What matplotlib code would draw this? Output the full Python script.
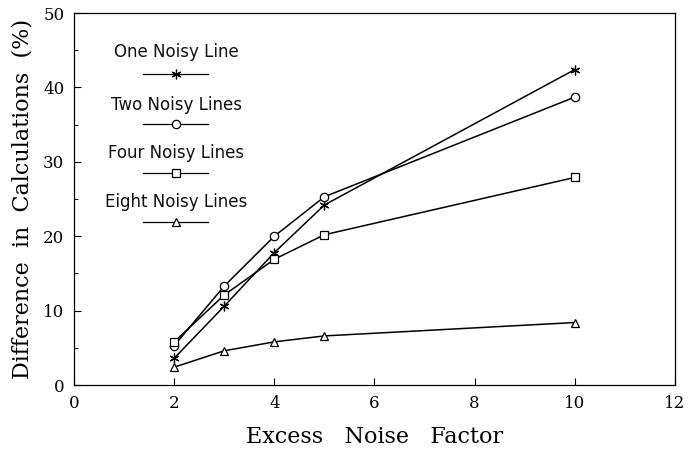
import numpy as np
import matplotlib.pyplot as plt
from matplotlib.lines import Line2D
from matplotlib.ticker import MultipleLocator

# data
noise_factor = [2, 3, 4, 5, 10]
one_line = [3.6, 10.6, 17.8, 24.2, 42.4]
two_lines = [5.3, 13.3, 20.0, 25.3, 38.7]
four_lines = [5.8, 12.1, 16.9, 20.2, 27.9]
eight_lines = [2.4, 4.6, 5.8, 6.6, 8.4]

labels = ['One Noisy Line', 'Two Noisy Lines', 'Four Noisy Lines', 'Eight Noisy Lines']
markers = [(6, 2, 0), 'o', 's', '^']
series = [one_line, two_lines, four_lines, eight_lines]

fig = plt.figure(figsize=(6.88, 4.49), dpi=100)
ax = fig.add_axes([0.1076, 0.1425, 0.8734, 0.8285])

for vals, mk in zip(series, markers):
    ax.plot(noise_factor, vals, color='black', lw=1.1, marker=mk,
            ms=7 if mk == markers[0] else 6, mfc='white' if mk != markers[0] else 'black',
            mec='black', mew=0.9)

ax.set_xlim(0, 12)
ax.set_ylim(0, 50)
ax.xaxis.set_major_locator(MultipleLocator(2))
ax.yaxis.set_major_locator(MultipleLocator(10))
ax.yaxis.set_minor_locator(MultipleLocator(5))
ax.tick_params(which='both', direction='in', top=False, right=False)
ax.tick_params(which='major', length=5, width=0.8, labelsize=12, pad=7)
ax.tick_params(which='minor', length=3, width=0.7)
for lab in ax.get_xticklabels() + ax.get_yticklabels():
    lab.set_fontfamily('DejaVu Serif')
for sp in ax.spines.values():
    sp.set_linewidth(0.9)

ax.set_xlabel('Excess   Noise   Factor', fontfamily='DejaVu Serif', fontsize=16, labelpad=10)
ax.set_ylabel('Difference  in  Calculations  (%)', fontfamily='DejaVu Serif', fontsize=16, labelpad=7)

# hand-drawn style legend: label above a short sample line
text_y = [0.895, 0.753, 0.624, 0.492]
line_y = [0.836, 0.702, 0.570, 0.438]
for lab, mk, ty, ly in zip(labels, markers, text_y, line_y):
    ax.text(0.17, ty, lab, transform=ax.transAxes, ha='center', va='center',
            fontsize=12, fontfamily='DejaVu Sans', color='#111111')
    ax.add_line(Line2D([0.115, 0.223], [ly, ly], transform=ax.transAxes,
                       color='black', lw=0.9))
    ax.add_line(Line2D([0.169], [ly], transform=ax.transAxes, marker=mk,
                       ms=7 if mk == markers[0] else 6,
                       mfc='white' if mk != markers[0] else 'black',
                       mec='black', mew=0.9, ls='none'))

fig.savefig('out.png', dpi=100)
